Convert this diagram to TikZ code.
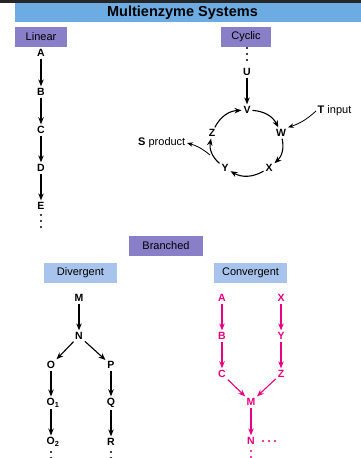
\documentclass[tikz,border=0pt]{standalone}
\usepackage{fontspec}
\setmainfont{Liberation Sans}
\usetikzlibrary{arrows.meta}
\definecolor{headblue}{RGB}{109,172,226}
\definecolor{tagpurple}{RGB}{137,126,200}
\definecolor{tagblue}{RGB}{168,196,236}
\definecolor{pathpink}{RGB}{232,0,128}
\begin{document}
\begin{tikzpicture}[x=1pt,y=-1pt,
  met/.style={font=\bfseries\fontsize{10.5}{12}\selectfont, inner sep=1.8pt},
  lab/.style={font=\fontsize{11}{13}\selectfont, inner sep=1.5pt},
  tag/.style={fill=tagpurple, minimum height=20pt, inner sep=0pt, font=\fontsize{11}{13}\selectfont},
  subtag/.style={fill=tagblue, minimum height=20pt, inner sep=0pt, font=\fontsize{11}{13}\selectfont},
  arr/.style={-{Stealth[length=7pt,width=5.5pt]}, line width=1.1pt},
  thin arr/.style={-{Stealth[length=6pt,width=4.5pt]}, line width=0.8pt},
  dot/.style={circle, fill, inner sep=0pt, minimum size=2.3pt}
]
\useasboundingbox (0,0) rectangle (361,458);
\fill[black!85] (0,0) rectangle (361,2.5);

% title bar
\fill[headblue] (15,3) rectangle (361,22);
\node[font=\bfseries\fontsize{14.5}{16}\selectfont] (title) at (182.5,12.5) {Multienzyme Systems};

% category tags
\node[tag, minimum width=52pt] (tlin) at (41,37) {Linear};
\node[tag, minimum width=50pt] (tcyc) at (246,37) {Cyclic};
\node[tag, minimum width=74pt] (tbra) at (166,246) {Branched};
\node[subtag, minimum width=73pt] (tdiv) at (80.5,273) {Divergent};
\node[subtag, minimum width=73pt] (tcon) at (250.5,273) {Convergent};

% linear pathway
\node[met] (lA) at (41,53) {A};
\node[met] (lB) at (41,92) {B};
\node[met] (lC) at (41,130) {C};
\node[met] (lD) at (41,168) {D};
\node[met] (lE) at (41,206) {E};
\draw[arr] (lA) -- (lB);
\draw[arr] (lB) -- (lC);
\draw[arr] (lC) -- (lD);
\draw[arr] (lD) -- (lE);
\foreach \y in {215,221,227} \node[dot] at (41,\y) {};

% cyclic pathway
\foreach \y in {48,54,60} \node[dot] at (247,\y) {};
\node[met] (cU) at (247,72) {U};
\node[met] (cV) at (247,110) {V};
\node[met] (cW) at (281,133) {W};
\node[met] (cX) at (269,168) {X};
\node[met] (cY) at (225,168) {Y};
\node[met] (cZ) at (212,133) {Z};
\draw[arr] (cU) -- (cV);
\draw[arr] (cV) to[bend left=30] (cW);
\draw[arr] (cW) to[bend left=30] (cX);
\draw[arr] (cX) to[bend left=30] (cY);
\draw[arr] (cY) to[bend left=30] (cZ);
\draw[arr] (cZ) to[bend left=30] (cV);
\node[lab, anchor=west] (tin) at (316,111) {\textbf{T} input};
\node[lab, anchor=east] (sout) at (187,143) {\textbf{S} product};
\draw[thin arr] (tin.west) to[bend left=12] (cW.north east);
\coordinate (sfrom) at (210,155);
\draw[thin arr] (sfrom) to[bend right=12] (sout.east);

% divergent pathway
\node[met] (dM) at (79,298) {M};
\node[met] (dN) at (79,336) {N};
\node[met] (dO) at (51,365) {O};
\node[met] (dP) at (111,365) {P};
\node[met] (dO1) at (53,403) {O\textsubscript{1}};
\node[met] (dQ) at (111,403) {Q};
\node[met] (dO2) at (53,442) {O\textsubscript{2}};
\node[met] (dR) at (111,442) {R};
\draw[arr] (dM) -- (dN);
\draw[arr] (dN) -- (dO);
\draw[arr] (dN) -- (dP);
\draw[arr] (dO) -- (dO|-dO1.north);
\draw[arr] (dO|-dO1.south) -- (dO|-dO2.north);
\draw[arr] (dP) -- (dQ);
\draw[arr] (dQ) -- (dR);
\foreach \y in {452,458} {\node[dot] at (51,\y) {}; \node[dot] at (111,\y) {};}

% convergent pathway
\begin{scope}[every node/.append style={text=pathpink}]
\node[met] (gA) at (222,298) {A};
\node[met] (gB) at (222,336) {B};
\node[met] (gC) at (222,374) {C};
\node[met] (gX) at (281,298) {X};
\node[met] (gY) at (281,336) {Y};
\node[met] (gZ) at (281,374) {Z};
\node[met] (gM) at (251,402) {M};
\node[met] (gN) at (251,441) {N};
\draw[arr, pathpink] (gA) -- (gB);
\draw[arr, pathpink] (gB) -- (gC);
\draw[arr, pathpink] (gX) -- (gY);
\draw[arr, pathpink] (gY) -- (gZ);
\draw[arr, pathpink] (gC) -- (gM);
\draw[arr, pathpink] (gZ) -- (gM);
\draw[arr, pathpink] (gM) -- (gN);
\foreach \x in {263,269,275} \node[dot, fill=pathpink] at (\x,441) {};
\foreach \y in {451,457} \node[dot, fill=pathpink] at (251,\y) {};
\end{scope}
\end{tikzpicture}
\end{document}
